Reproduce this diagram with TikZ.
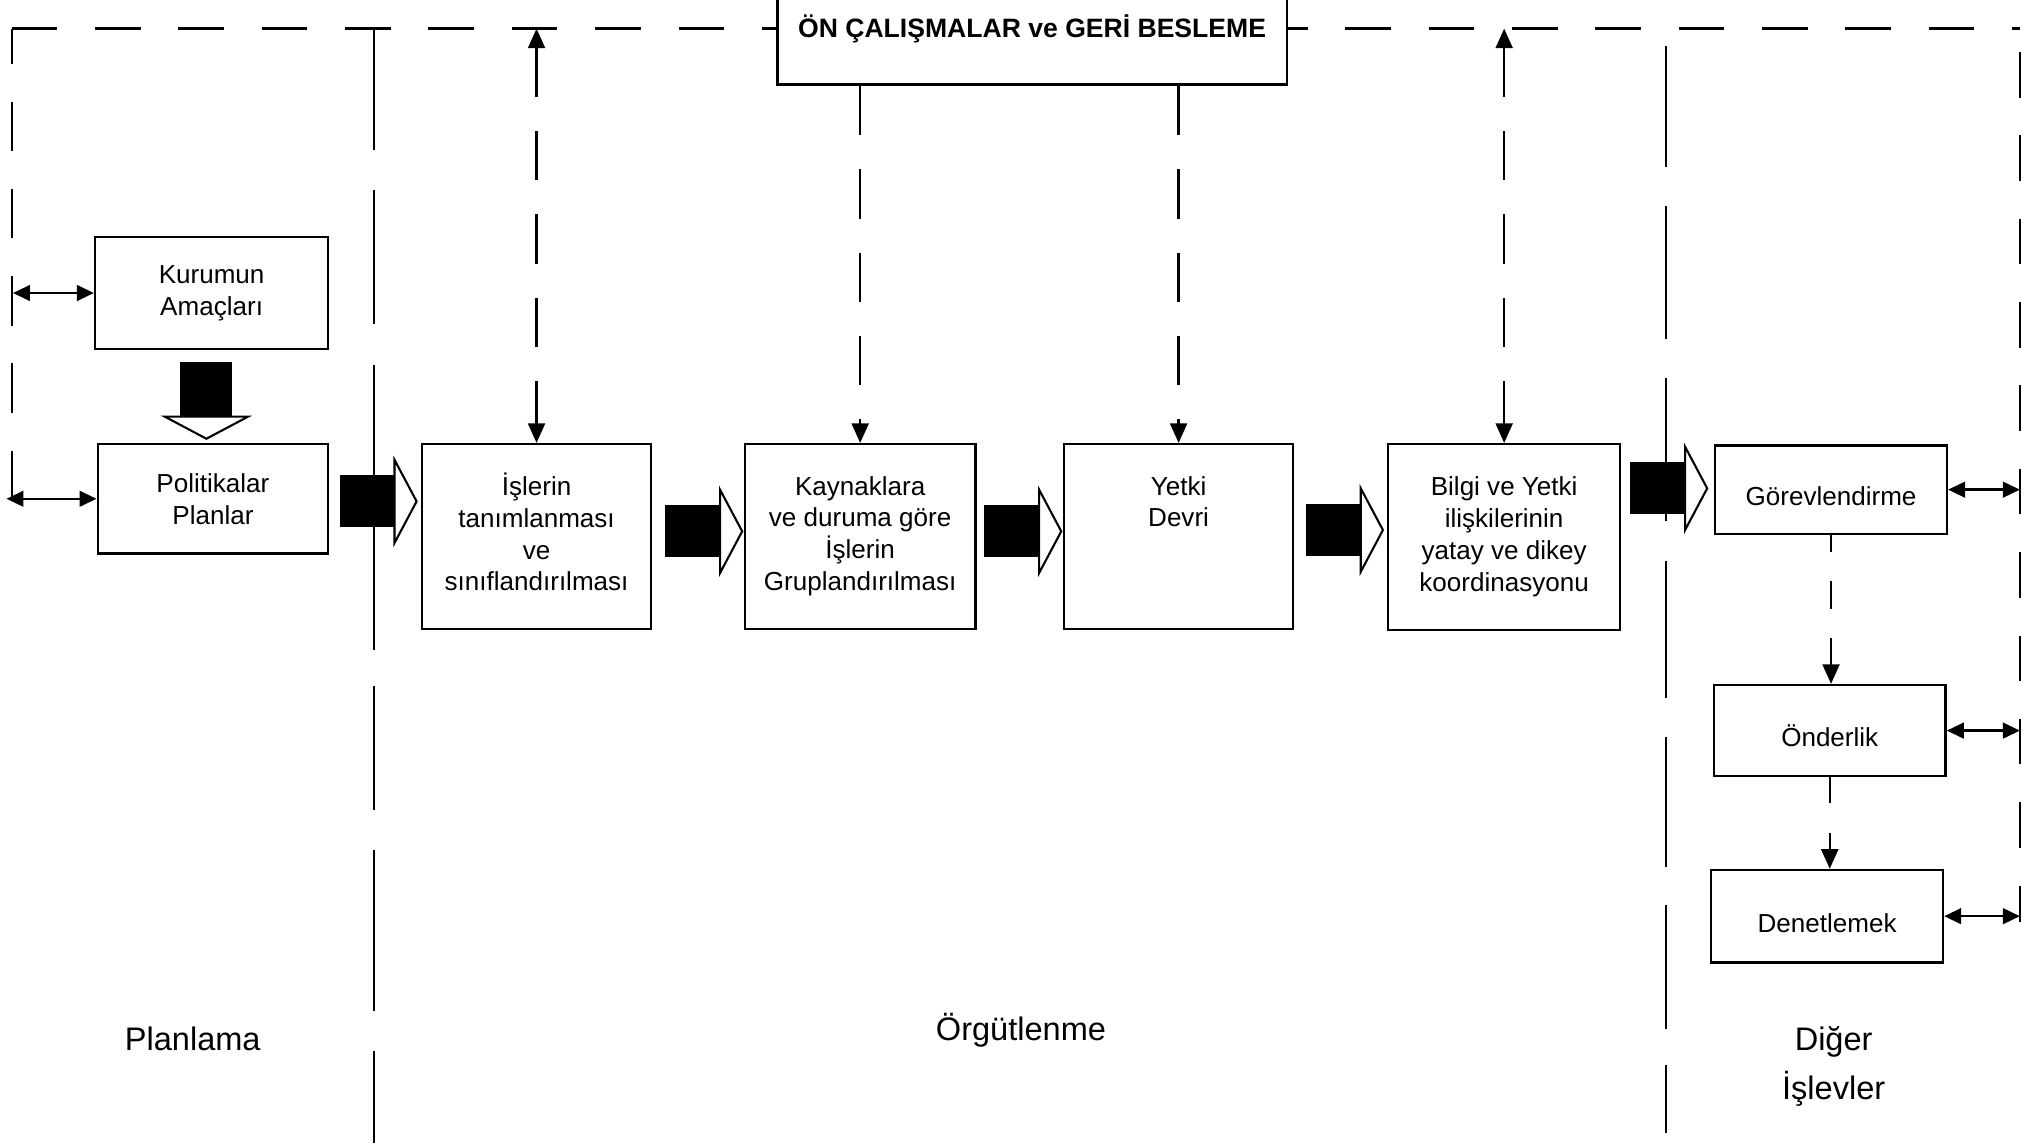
\documentclass[tikz,border=0pt]{standalone}
\usepackage{fontspec}
\setmainfont{Liberation Sans}
\usetikzlibrary{arrows.meta,calc}

\begin{document}
\begin{tikzpicture}[x=1pt,y=-1pt,
  box/.style={draw,line width=1.8pt,fill=white,align=center,inner sep=0pt,
    font=\fontsize{20}{24.5}\selectfont},
  smallbox/.style={box,text height=25pt,text depth=0pt},
  hdrbox/.style={draw,line width=1.8pt,fill=white,inner sep=0pt,
    font=\fontsize{20.4}{24}\selectfont\bfseries},
  lbl/.style={inner sep=0pt,align=center,font=\fontsize{25}{38}\selectfont},
  border/.style={line width=1.8pt,dash pattern=on 35pt off 29pt},
  divider/.style={line width=1.6pt},
  vdash/.style={line width=1.8pt,dash pattern=on 38pt off 26pt},
  tip/.style={-{Triangle[length=15pt,width=13pt]}},
  bothtips/.style={{Triangle[length=15pt,width=13pt]}-{Triangle[length=15pt,width=13pt]}},
  dbltip/.style={{Triangle[length=13pt,width=12pt]}-{Triangle[length=13pt,width=12pt]},line width=1.8pt},
  pics/blockarr/.style={code={
    \fill (0,-20) rectangle (43,20);
    \filldraw[fill=white,line width=1.6pt,line join=miter] (42,-32) -- (59,0) -- (42,32) -- cycle;
  }}]

\useasboundingbox (0,0) rectangle (1568,878);
\clip (0,0) rectangle (1568,878);

% frame corners of the dashed outline
\coordinate (topL) at (9,22);
\coordinate (topR) at (1551,22);
\coordinate (botL) at (9,384);
\coordinate (botR) at (1551,708);

% dashed outline: top edge, left and right sides
\draw[border] (topL) -- (topR);
\draw[line width=1.8pt,dash pattern=on 38pt off 29pt] (botL) -- (topL);
\draw[line width=1.8pt,dash pattern=on 35pt off 29pt,dash phase=7pt] (botR) -- (topR);

% section dividers
\coordinate (d1top) at (287,22);
\coordinate (d1bot) at (287,878);
\coordinate (d2top) at (1279,35);
\coordinate (d2bot) at (1279,870);
\draw[divider,dash pattern=on 93pt off 31pt on 103pt off 31pt on 219pt off 28pt on 95pt off 31pt on 123pt off 31pt on 80pt]
  (d1top) -- (d1bot);
\draw[divider,dash pattern=on 93pt off 30pt on 102pt off 30pt on 110pt off 31pt on 105pt off 30pt on 100pt off 29pt on 95pt off 28pt on 52pt]
  (d2top) -- (d2bot);

% header box
\node[hdrbox,minimum width=391pt,minimum height=86pt] (hdr) at (792.5,22)
  {ÖN ÇALIŞMALAR ve GERİ BESLEME};

% planning
\node[box,minimum width=179pt,minimum height=86pt] (kurum) at (162.5,225) {Kurumun\\Amaçları};
\node[box,minimum width=177pt,minimum height=84pt] (polit) at (163.5,383) {Politikalar\\Planlar};

% organising
\node[box,minimum width=176pt,minimum height=142pt] (isler) at (412,412)
  {\strut İşlerin\\tanımlanması\\ve\\sınıflandırılması\strut};
\node[box,minimum width=177pt,minimum height=142pt] (kaynak) at (660.5,412)
  {\strut Kaynaklara\\ve duruma göre\\İşlerin\\Gruplandırılması\strut};
\node[box,minimum width=176pt,minimum height=142pt] (yetki) at (905,412)
  {\strut Yetki\\Devri\\\strut\\\strut};
\node[box,minimum width=178pt,minimum height=143pt] (bilgi) at (1155,412.5)
  {\strut Bilgi ve Yetki\\ilişkilerinin\\yatay ve dikey\\koordinasyonu\strut};

% other functions
\node[smallbox,minimum width=178pt,minimum height=68pt] (gorev) at (1406,376) {Görevlendirme};
\node[smallbox,minimum width=178pt,minimum height=70pt] (onder) at (1405,561) {Önderlik};
\node[smallbox,minimum width=178pt,minimum height=71pt] (denet) at (1403,703.5) {Denetlemek};

% section labels
\node[lbl] (planl) at (148,798) {Planlama};
\node[lbl] (orgut) at (784,791) {Örgütlenme};
\node[lbl] (diger) at (1408,819) {Diğer\\İşlevler};

% block arrows along the main flow
\pic[rotate=-90] at ($(kurum.south)+(-4,9)$) {blockarr};
\pic at ($(polit.east)+(8,2)$) {blockarr};
\pic at ($(isler.east)+(10,-4)$) {blockarr};
\pic at ($(kaynak.east)+(6,-4)$) {blockarr};
\pic at ($(yetki.east)+(9,-5)$) {blockarr};
\pic at ($(bilgi.east |- gorev.west)+(7,-1)$) {blockarr};

% feedback links with the header line
\draw[vdash,bothtips] (isler.north |- topL) -- (isler.north);
\draw[vdash,tip] (hdr.south -| kaynak.north) -- (kaynak.north);
\draw[vdash,tip] (hdr.south -| yetki.north) -- (yetki.north);
\draw[vdash,bothtips] (bilgi.north |- topL) -- (bilgi.north);

% links to the outline
\draw[dbltip] (kurum.west) -- ($(kurum.west -| topL)+(1,0)$);
\draw[dbltip] (polit.west) -- ($(polit.west -| topL)+(-4,0)$);
\draw[dbltip] (gorev.east) -- (gorev.east -| topR);
\draw[dbltip] (onder.east) -- (onder.east -| topR);
\draw[dbltip] (denet.east) -- (denet.east -| topR);

% sequence of the other functions
\draw[line width=1.8pt,dash pattern=on 22pt off 22pt,dash phase=9pt,tip]
  (gorev.south) -- (gorev.south |- onder.north);
\draw[line width=1.8pt,dash pattern=on 20pt off 23pt,tip]
  (onder.south) -- (onder.south |- denet.north);

\end{tikzpicture}
\end{document}
